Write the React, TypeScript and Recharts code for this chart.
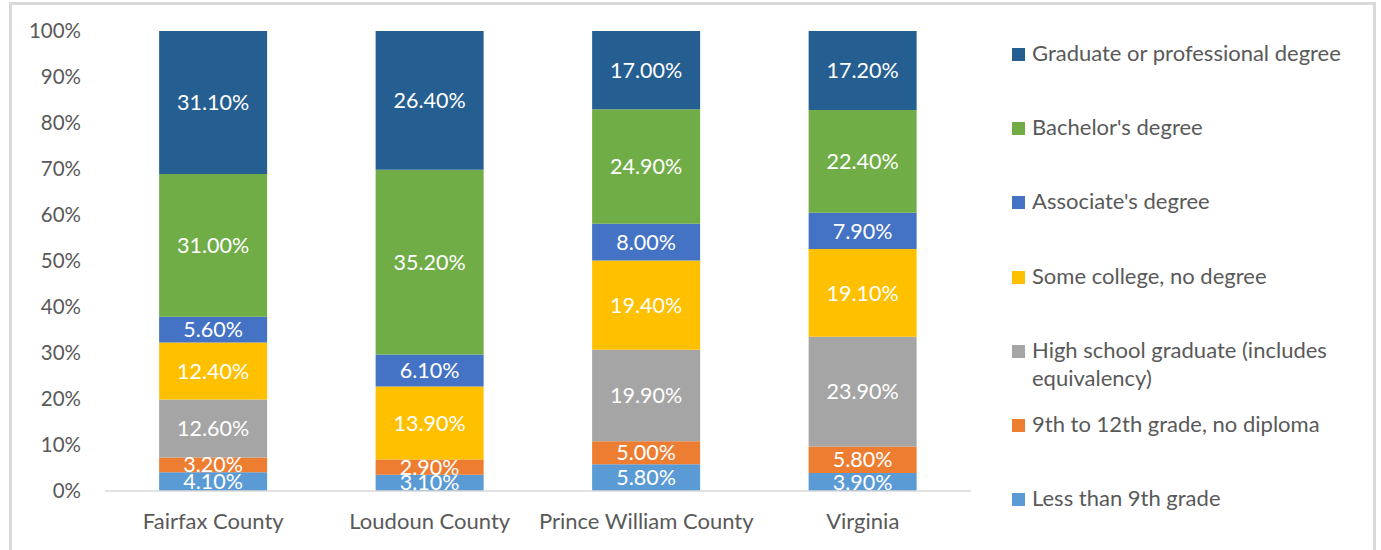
import { BarChart, Bar, XAxis, YAxis, LabelList } from "recharts";

const areas = ["Fairfax County", "Loudoun County", "Prince William County", "Virginia"];

// bottom of the stack first
const lessThan9th = [4.1, 3.1, 5.8, 3.9];
const grade9to12 = [3.2, 2.9, 5.0, 5.8];
const highSchool = [12.6, 0, 19.9, 23.9];
const someCollege = [12.4, 13.9, 19.4, 19.1];
const associate = [5.6, 6.1, 8.0, 7.9];
const bachelor = [31.0, 35.2, 24.9, 22.4];
const graduate = [31.1, 26.4, 17.0, 17.2];

const yTicks = [0, 0.1, 0.2, 0.3, 0.4, 0.5, 0.6, 0.7, 0.8, 0.9, 1];

const series = [
  { key: "lt9", name: "Less than 9th grade", color: "#5b9bd5", values: lessThan9th },
  { key: "g912", name: "9th to 12th grade, no diploma", color: "#ed7d31", values: grade9to12 },
  { key: "hs", name: "High school graduate (includes equivalency)", color: "#a5a5a5", values: highSchool },
  { key: "some", name: "Some college, no degree", color: "#ffc000", values: someCollege },
  { key: "assoc", name: "Associate's degree", color: "#4472c4", values: associate },
  { key: "bach", name: "Bachelor's degree", color: "#70ad47", values: bachelor },
  { key: "grad", name: "Graduate or professional degree", color: "#255e91", values: graduate },
];

const data = areas.map((area, i) => {
  const row: Record<string, string | number> = { area };
  series.forEach((s) => (row[s.key] = s.values[i]));
  return row;
});

const FONT = "Lato, 'Noto Sans', sans-serif";

function LegendBox() {
  const items = [...series].reverse();
  return (
    <div
      style={{
        position: "absolute",
        left: 1012,
        top: 39,
        fontFamily: FONT,
        fontSize: 22,
        color: "#595959",
      }}
    >
      {items.map((s) => (
        <div key={s.key} style={{ display: "flex", alignItems: "flex-start", height: 74.2 }}>
          <span
            style={{
              width: 13,
              height: 13,
              background: s.color,
              marginTop: 9,
              marginRight: 7,
              flexShrink: 0,
            }}
          />
          <span style={{ width: 330, lineHeight: "28px" }}>{s.name}</span>
        </div>
      ))}
    </div>
  );
}

export default function App() {
  return (
    <div style={{ position: "absolute", left: 0, top: 0, width: 1381, height: 550, background: "#fff", overflow: "hidden" }}>
      <div
        style={{
          position: "absolute",
          left: 9,
          top: 2,
          width: 1361,
          height: 600,
          border: "3px solid #d9d9d9",
        }}
      />
      <BarChart
        width={1381}
        height={550}
        data={data}
        stackOffset="expand"
        barCategoryGap="25%"
        margin={{ top: 31, right: 410, left: 0, bottom: 19 }}
        style={{ position: "absolute", left: 0, top: 0 }}
      >
        <XAxis
          dataKey="area"
          height={40}
          axisLine={{ stroke: "#d9d9d9", strokeWidth: 1.5 }}
          tickLine={false}
          tickMargin={16}
          tick={{ fill: "#595959", fontSize: 22, fontFamily: FONT }}
        />
        <YAxis
          width={105}
          domain={[0, 1]}
          ticks={yTicks}
          axisLine={false}
          tickLine={false}
          tickMargin={18}
          tickFormatter={(v) => `${Math.round(v * 100)}%`}
          tick={{ fill: "#595959", fontSize: 20.5, fontFamily: FONT }}
        />
        {series.map((s) => (
          <Bar key={s.key} dataKey={s.key} name={s.name} stackId="a" fill={s.color} isAnimationActive={false}>
            <LabelList
              dataKey={s.key}
              position="center"
              fill="#ffffff"
              fontSize={21.5}
              fontFamily={FONT}
              formatter={(v: number) => (v ? `${v.toFixed(2)}%` : "")}
            />
          </Bar>
        ))}
      </BarChart>
      <LegendBox />
    </div>
  );
}
